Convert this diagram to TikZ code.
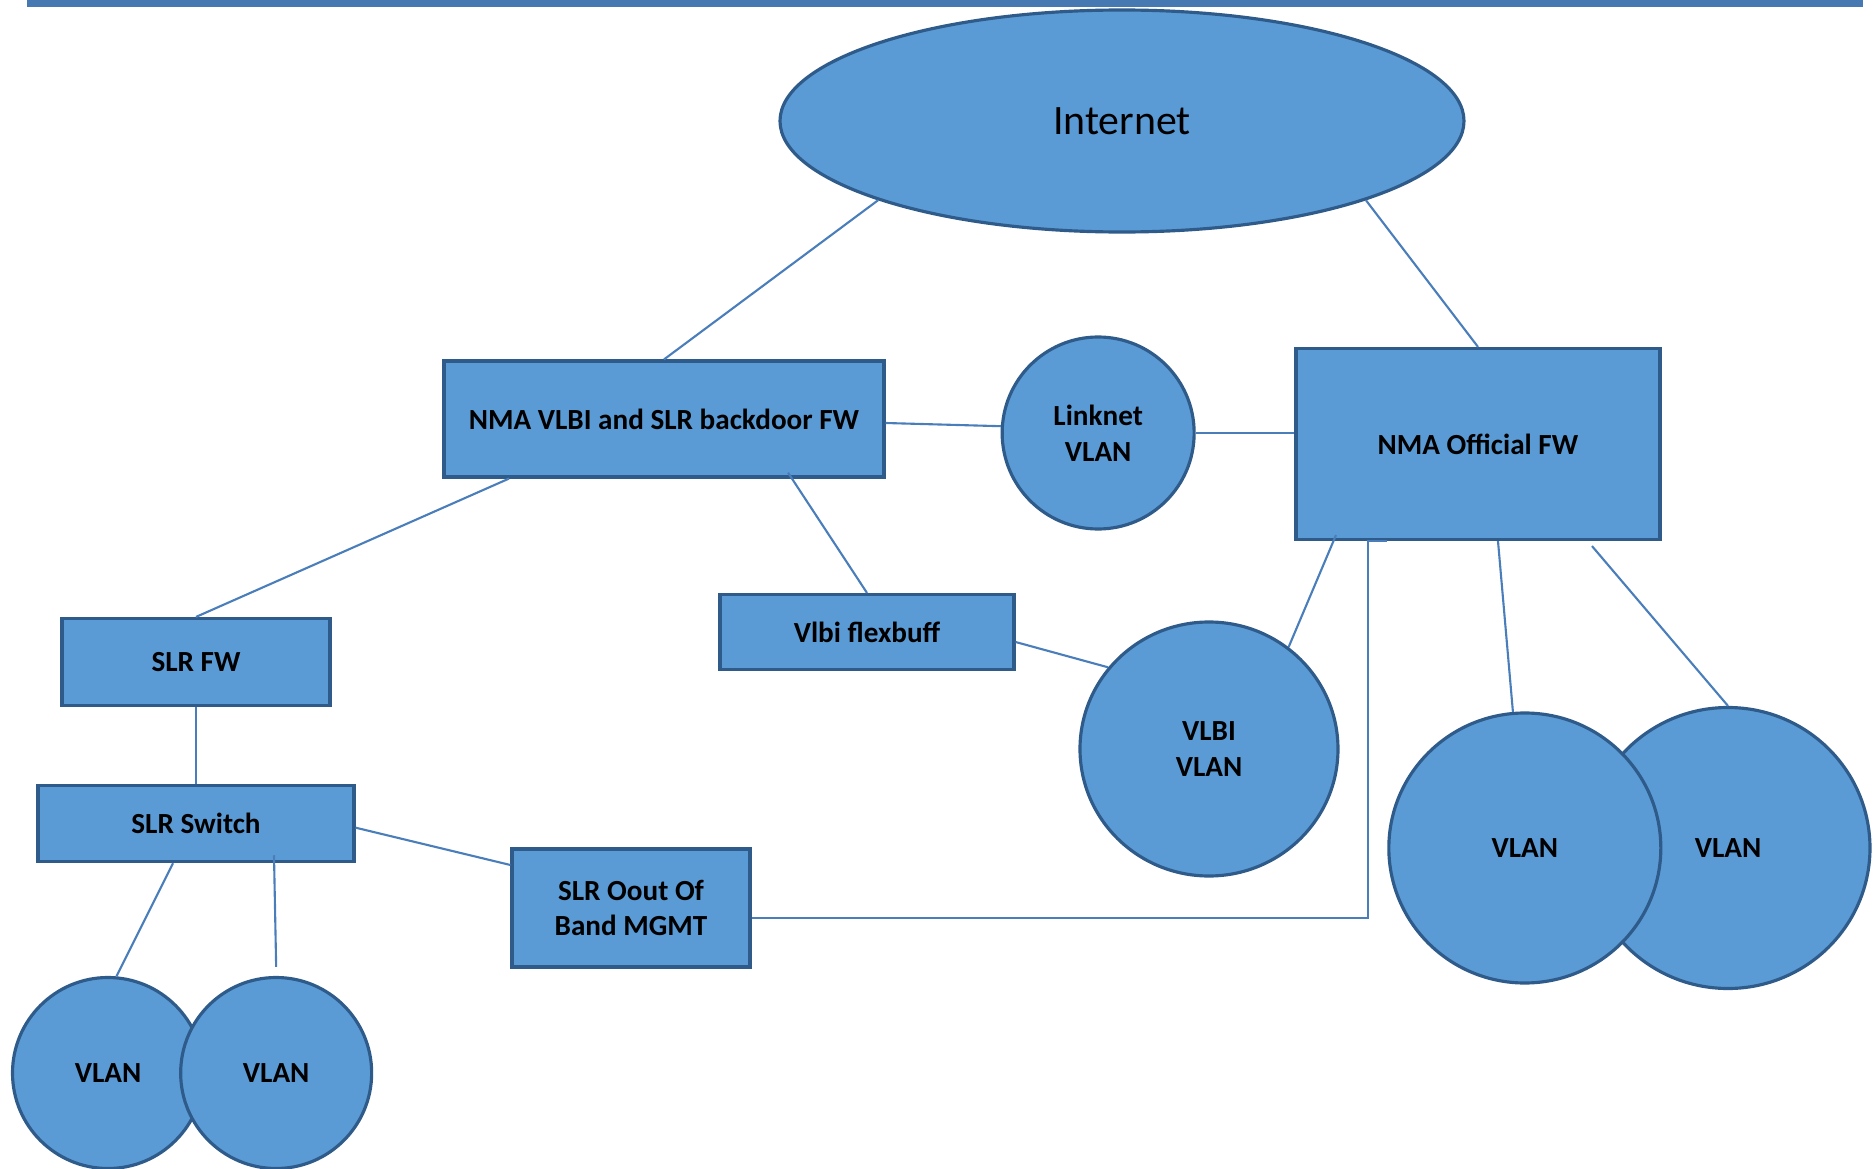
\documentclass[tikz,border=0pt]{standalone}
\usepackage{fontspec}
\setmainfont{Carlito}
\usepackage{xcolor}
\usetikzlibrary{shapes.geometric, positioning, calc}
\definecolor{shapeblue}{HTML}{5B9BD5}
\definecolor{edgeblue}{HTML}{2E5B8A}
\definecolor{linkblue}{HTML}{4A7EBB}

\begin{document}
\begin{tikzpicture}[
    node distance=0.5cm and 0.4cm,
    every node/.style={font=\fontsize{8.3}{10.2}\selectfont\bfseries},
    box/.style 2 args={rectangle, draw=edgeblue, fill=shapeblue, line width=0.9pt, minimum width=#1, minimum height=#2, inner sep=0pt, align=center},
    vlan/.style 2 args={ellipse, draw=edgeblue, fill=shapeblue, line width=0.9pt, minimum width=#1, minimum height=#2, inner sep=0pt, align=center},
    link/.style={linkblue, line width=0.6pt}
]
\useasboundingbox (0,0) rectangle (18.75,-11.69);

% Title bar
\fill[linkblue!95!black] (0.27,0) rectangle (18.63,-0.07);

% Internet
\node[vlan={6.84cm}{2.22cm}, font=\fontsize{11.9}{14}\selectfont] (internet) at (11.22,-1.21) {Internet};

% Firewalls
\node[box={4.40cm}{1.16cm}] (nmafw) at (6.64,-4.19) {NMA VLBI and SLR backdoor FW};
\node[vlan={1.92cm}{1.92cm}, right=1.15cm of nmafw, yshift=-0.14cm] (linknet) {Linknet\\VLAN};
\node[box={3.64cm}{1.91cm}] (offw) at (14.78,-4.44) {NMA Official FW};

% VLBI side
\node[box={2.94cm}{0.75cm}] (flex) at (8.67,-6.32) {Vlbi flexbuff};
\node[vlan={2.58cm}{2.54cm}] (vlbivlan) at (12.09,-7.49) {VLBI\\VLAN};

% SLR side
\node[box={2.68cm}{0.87cm}] (slrfw) at (1.96,-6.62) {SLR FW};
\node[box={3.16cm}{0.76cm}, below=0.77cm of slrfw] (slrsw) {SLR Switch};
\node[box={2.38cm}{1.18cm}] (mgmt) at (6.31,-9.08) {SLR Oout Of\\Band MGMT};
\node[vlan={1.91cm}{1.91cm}] (vlana) at (1.08,-10.73) {VLAN};
\node[vlan={1.91cm}{1.91cm}, right=-0.26cm of vlana] (vlanb) {VLAN};

% Official VLANs
\node[vlan={2.84cm}{2.81cm}] (vland) at (17.28,-8.48) {VLAN};
\node[vlan={2.72cm}{2.70cm}, left=-0.78cm of vland] (vlanc) {VLAN};

% Links
\draw[link] (internet.198) -- (nmafw.north);
\draw[link] (internet.342) -- (offw.north);
\draw[link] ([yshift=-0.04cm]nmafw.east) -- (linknet.176);
\draw[link] (linknet.east) -- (linknet.east -| offw.west);
\draw[link] ([xshift=-1.55cm]nmafw.south) -- (slrfw.north);
\draw[link] ([xshift=1.24cm,yshift=0.06cm]nmafw.south) -- (flex.north);
\draw[link] ([yshift=-0.1cm]flex.east) -- (vlbivlan.141);
\draw[link] ([xshift=-1.42cm,yshift=0.06cm]offw.south) -- (vlbivlan.52);
\draw[link] ([xshift=-0.91cm]offw.south) -- ++(-0.19,0) |- ([yshift=-0.1cm]mgmt.east);
\draw[link] ([xshift=0.2cm]offw.south) -- (vlanc.95);
\draw[link] ([xshift=1.14cm,yshift=-0.05cm]offw.south) -- (vland.north);
\draw[link] (slrfw.south) -- (slrsw.north);
\draw[link] ([yshift=-0.04cm]slrsw.east) -- ([yshift=0.43cm]mgmt.west);
\draw[link] ([xshift=-0.23cm]slrsw.south) -- (vlana.85);
\draw[link] ([xshift=0.78cm,yshift=0.08cm]slrsw.south) -- ([yshift=0.09cm]vlanb.north);

\end{tikzpicture}
\end{document}
